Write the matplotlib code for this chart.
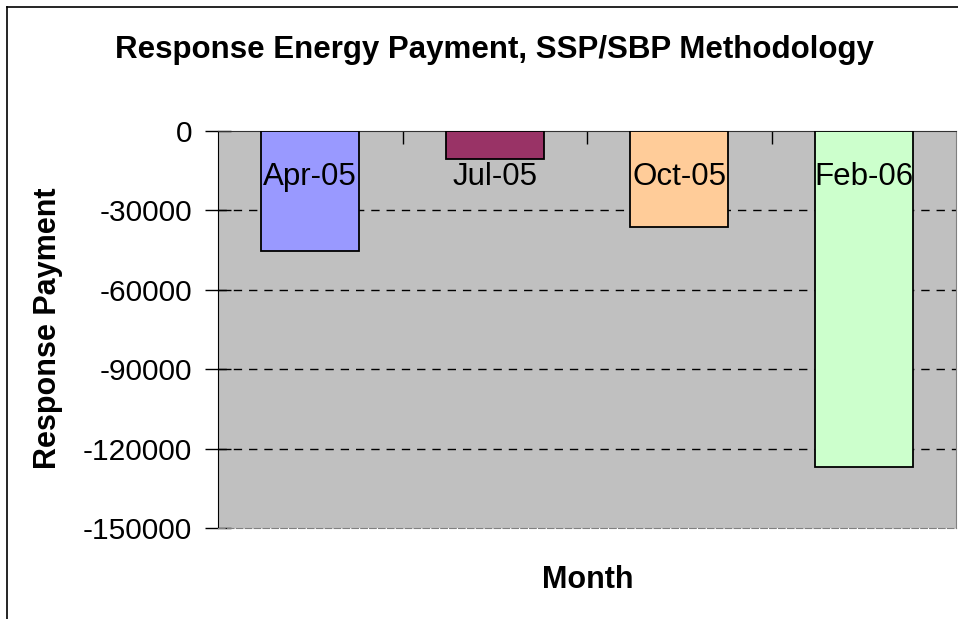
import matplotlib
matplotlib.use('Agg')
import matplotlib.pyplot as plt
from matplotlib.lines import Line2D

# data
months = ['Apr-05', 'Jul-05', 'Oct-05', 'Feb-06']
payments = [-45400, -10700, -36400, -127000]
bar_colors = ['#9999FF', '#993366', '#FFCC99', '#CCFFCC']
yticks = [0, -30000, -60000, -90000, -120000, -150000]

plt.rcParams['font.family'] = ['Liberation Sans', 'DejaVu Sans']

W, H = 958, 619
fig = plt.figure(figsize=(W / 100, H / 100), dpi=100)
fig.patch.set_facecolor('white')

# axes box in pixel terms
left, right, top, bottom = 218, 956, 131, 528
ax = fig.add_axes([left / W, 1 - bottom / H, (right - left) / W, (bottom - top) / H])
ax.set_facecolor('#C0C0C0')

x = range(len(months))
ax.bar(x, payments, width=0.53, color=bar_colors, edgecolor='black', linewidth=1.3, zorder=3)

ax.set_xlim(-0.5, len(months) - 0.5)
ax.set_ylim(-150000, 0)
ax.set_yticks(yticks)
ax.set_yticklabels([str(v) for v in yticks], fontsize=21.5)
ax.tick_params(axis='y', direction='inout', length=19, width=1, pad=9)

# category separators on the zero line
ax.xaxis.tick_top()
ax.set_xticks([i + 0.5 for i in range(len(months) - 1)])
ax.set_xticklabels([])
ax.tick_params(axis='x', direction='in', length=9, width=1)

for v in yticks[1:-1]:
    ax.axhline(v, color='black', linestyle=(0, (6, 5)), linewidth=1, zorder=1)

for s in ['right', 'bottom']:
    ax.spines[s].set_color('#808080')
ax.spines['bottom'].set_linestyle((0, (6, 2)))
ax.spines['left'].set_color('black')
ax.spines['top'].set_color('#333333')

# month names inside bars
label_y = -17200
for i, m in enumerate(months):
    ax.text(i, label_y, m, ha='center', va='center', fontsize=22.5, zorder=4)

fig.text(494 / W, 1 - 50 / H, 'Response Energy Payment, SSP/SBP Methodology',
         ha='center', va='center', fontsize=22.5, fontweight='bold')
fig.text(48 / W, 1 - 328 / H, 'Response Payment', rotation=90,
         ha='center', va='center', fontsize=22, fontweight='bold')
fig.text(588 / W, 1 - 580 / H, 'Month', ha='center', va='center',
         fontsize=22, fontweight='bold')

# outer chart border (only left and top visible in the crop)
fig.add_artist(Line2D([7 / W, 7 / W], [0, 1 - 7 / H], color='black', linewidth=1.2))
fig.add_artist(Line2D([7 / W, 1], [1 - 7 / H, 1 - 7 / H], color='black', linewidth=1.2))

fig.savefig('out.png', dpi=100)
